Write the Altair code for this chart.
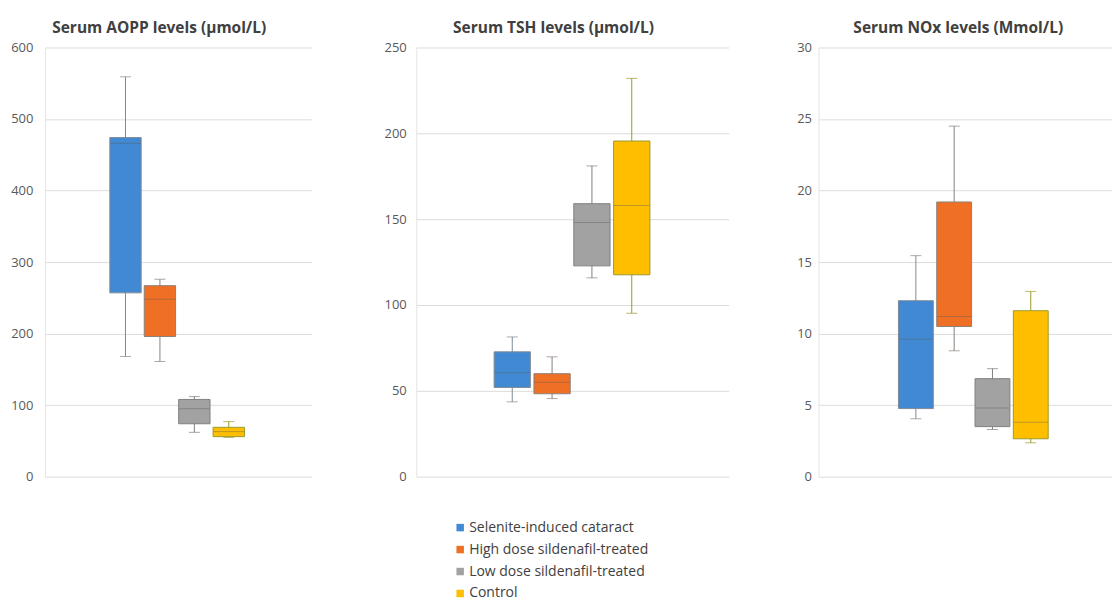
import altair as alt
import pandas as pd

groups = ["Selenite-induced cataract", "High dose sildenafil-treated",
          "Low dose sildenafil-treated", "Control"]
fill_colors = ["#4189d3", "#ef6f24", "#a2a2a2", "#ffbf00"]
edge_colors = ["#2f6fb5", "#c75a18", "#7f7f7f", "#d29d00"]
whisker_colors = ["#7f8a96", "#8c8078", "#7f7f7f", "#9a9a2a"]

# Serum AOPP levels
aopp_lo = [168, 161, 62, 55]
aopp_q1 = [257, 196, 74, 56]
aopp_med = [466, 248, 95, 63]
aopp_q3 = [474, 267, 108, 69]
aopp_hi = [559, 276, 112, 77]

# Serum TSH levels
tsh_lo = [43.6, 45.5, 115.8, 95.2]
tsh_q1 = [52, 48.3, 122.8, 117.6]
tsh_med = [60.5, 55, 148, 158]
tsh_q3 = [72.7, 60, 159, 195.5]
tsh_hi = [81.4, 69.8, 181, 232]

# Serum NOx levels
nox_lo = [4.05, 8.8, 3.3, 2.37]
nox_q1 = [4.76, 10.5, 3.5, 2.65]
nox_med = [9.6, 11.2, 4.8, 3.8]
nox_q3 = [12.3, 19.2, 6.85, 11.6]
nox_hi = [15.45, 24.5, 7.55, 12.95]

FONT = "Open Sans"


def panel(title, ymax, ystep, lo, q1, med, q3, hi, width, band_w,
          pad_outer, align, lab_pad, extent, title_dx, show_legend=False):
    df = pd.DataFrame({"cluster": ["all"] * 4, "group": groups, "lo": lo,
                       "q1": q1, "med": med, "q3": q3, "hi": hi})
    x = alt.X("cluster:N", axis=None,
              scale=alt.Scale(paddingInner=0, paddingOuter=pad_outer, align=align))
    xo = alt.XOffset("group:N", sort=groups,
                     scale=alt.Scale(domain=groups, paddingInner=0.09, paddingOuter=0))
    yscale = alt.Scale(domain=[0, ymax], nice=False, zero=True)
    yaxis = alt.Axis(values=list(range(0, ymax + 1, ystep)), title=None,
                     grid=True, gridColor="#dcdcdc", gridWidth=1,
                     domain=True, domainColor="#e4e4e4", ticks=False,
                     labelPadding=lab_pad, labelFontSize=13,
                     labelColor="#595959", labelFont=FONT,
                     minExtent=extent, maxExtent=extent)
    stroke_w = alt.Stroke("group:N", scale=alt.Scale(domain=groups, range=whisker_colors), legend=None)
    fill_w = alt.Fill("group:N", scale=alt.Scale(domain=groups, range=whisker_colors), legend=None)
    base = alt.Chart(df)
    whisk = base.mark_rule(strokeWidth=1).encode(
        x=x, xOffset=xo, y=alt.Y("lo:Q", scale=yscale, axis=yaxis), y2="hi:Q",
        stroke=stroke_w)
    cap_lo = base.mark_tick(size=11, thickness=1).encode(
        x=x, xOffset=xo, y=alt.Y("lo:Q", scale=yscale), fill=fill_w)
    cap_hi = base.mark_tick(size=11, thickness=1).encode(
        x=x, xOffset=xo, y=alt.Y("hi:Q", scale=yscale), fill=fill_w)
    legend = alt.Legend(
        orient="none", legendX=409, legendY=474, title=None,
        symbolType="square", symbolSize=56, symbolStrokeWidth=0.8,
        labelFontSize=14, labelFont=FONT, labelColor="#404040",
        rowPadding=8, labelOffset=2, symbolOpacity=1, labelLimit=300)
    box = base.mark_bar(strokeWidth=1, opacity=1).encode(
        x=x, xOffset=xo, y=alt.Y("q1:Q", scale=yscale), y2="q3:Q",
        color=alt.Color("group:N", sort=groups,
                        scale=alt.Scale(domain=groups, range=fill_colors),
                        legend=legend if show_legend else None),
        stroke=alt.Stroke("group:N", scale=alt.Scale(domain=groups, range=edge_colors), legend=None))
    median = base.mark_tick(size=band_w, thickness=1, opacity=0.4, color="#5a5a5a").encode(
        x=x, xOffset=xo, y=alt.Y("med:Q", scale=yscale))
    return alt.layer(whisk, cap_lo, cap_hi, box, median).properties(
        width=width, height=430,
        title=alt.TitleParams(title, fontSize=15.5, font=FONT, fontWeight="bold",
                              color="#404040", anchor="middle", frame="group",
                              dx=title_dx, offset=5))


p1 = panel("Serum AOPP levels (µmol/L)", 600, 100, aopp_lo, aopp_q1, aopp_med,
           aopp_q3, aopp_hi, 267, 31, 0.49, 0.492, 12, 32, -19, show_legend=True)
p2 = panel("Serum TSH levels (µmol/L)", 250, 50, tsh_lo, tsh_q1, tsh_med,
           tsh_q3, tsh_hi, 313, 36, 0.503, 0.497, 10, 65, -19)
p3 = panel("Serum NOx levels (Mmol/L)", 30, 5, nox_lo, nox_q1, nox_med,
           nox_q3, nox_hi, 294, 34, 0.48, 0.556, 7, 50, -7)

chart = alt.hconcat(p1, p2, p3, spacing=40).resolve_scale(
    y="independent", x="independent", xOffset="independent",
    stroke="independent", fill="independent"
).configure(
    padding={"left": 2, "top": 12, "right": 0, "bottom": 0},
    background="white").configure_view(strokeWidth=0)

chart.save("out.html", embed_options={"renderer": "svg", "actions": False})
